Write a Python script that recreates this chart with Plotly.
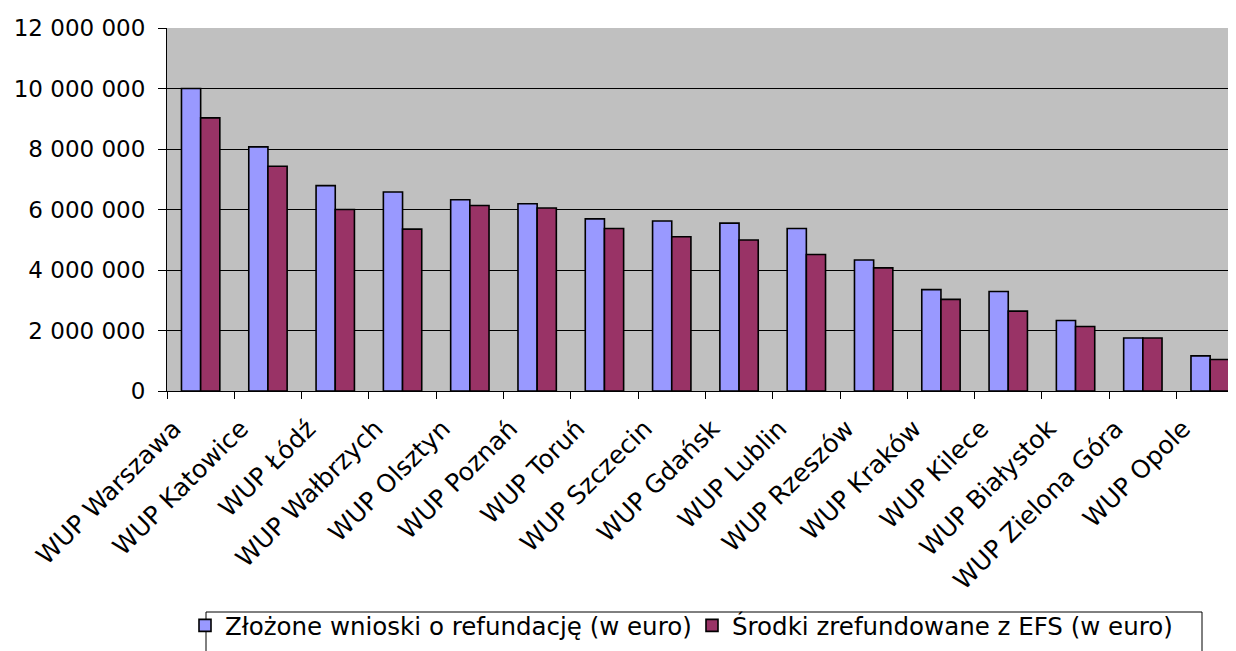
import plotly.graph_objects as go

categories = ["WUP Warszawa", "WUP Katowice", "WUP Łódź", "WUP Wałbrzych", "WUP Olsztyn",
              "WUP Poznań", "WUP Toruń", "WUP Szczecin", "WUP Gdańsk", "WUP Lublin",
              "WUP Rzeszów", "WUP Kraków", "WUP Kilece", "WUP Białystok", "WUP Zielona Góra",
              "WUP Opole"]
zlozone = [10000000, 8070000, 6790000, 6580000, 6320000, 6190000, 5690000, 5620000,
           5550000, 5370000, 4330000, 3350000, 3290000, 2330000, 1750000, 1160000]
srodki = [9030000, 7430000, 6000000, 5350000, 6130000, 6050000, 5370000, 5100000,
          4990000, 4510000, 4070000, 3030000, 2640000, 2130000, 1750000, 1040000]
series_names = ["Złożone wnioski o refundację (w euro)", "Środki zrefundowane z EFS (w euro)"]
y_tickvals = [0, 2000000, 4000000, 6000000, 8000000, 10000000, 12000000]
y_ticktext = ["0", "2 000 000", "4 000 000", "6 000 000", "8 000 000", "10 000 000", "12 000 000"]

FONT = "DejaVu Sans, Liberation Sans, Arial, sans-serif"

# page body has an 8px margin, so the figure is sized to end at the window edge
W, H = 1228, 643
L, T, B = 159, 20, 260
PW, PH = W - L, H - T - B

fig = go.Figure()
fig.add_trace(go.Bar(x=categories, y=zlozone, name=series_names[0],
                     marker=dict(color="#9999FF", line=dict(color="black", width=1.6))))
fig.add_trace(go.Bar(x=categories, y=srodki, name=series_names[1],
                     marker=dict(color="#993366", line=dict(color="black", width=1.6))))

fig.update_layout(
    width=W, height=H,
    margin=dict(l=L, r=0, t=T, b=B, pad=0),
    paper_bgcolor="white", plot_bgcolor="#C0C0C0",
    barmode="group", bargap=0.43, bargroupgap=0,
    font=dict(family=FONT, size=24, color="black"),
    showlegend=True,
    legend=dict(orientation="h", x=(185 - 167) / PW, xanchor="left",
                y=(391 - 603) / PH, yanchor="top",
                bgcolor="rgba(0,0,0,0)", borderwidth=0, itemwidth=30,
                entrywidth=462, entrywidthmode="pixels",
                font=dict(family=FONT, size=24.5, color="black")),
    shapes=[dict(type="rect", xref="paper", yref="paper",
                 x0=(206 - 167) / PW, x1=(1202 - 167) / PW,
                 y0=(391 - 612) / PH, y1=-1.0,
                 line=dict(color="black", width=1), fillcolor="rgba(0,0,0,0)")],
)
fig.update_xaxes(range=[-0.5, -0.5 + PW / 67.3], showline=True, linecolor="black", linewidth=1,
                 ticks="outside", tickson="boundaries", ticklen=7, tickcolor="black",
                 tickangle=-45, ticklabelshift=-27, ticklabelstandoff=12,
                 tickfont=dict(family=FONT, size=25, color="black"),
                 showgrid=False)
fig.update_yaxes(range=[0, 12000000], tickvals=y_tickvals, ticktext=y_ticktext,
                 showline=True, linecolor="black", linewidth=1,
                 ticks="outside", ticklen=8, tickcolor="black", ticklabelstandoff=8,
                 showgrid=True, gridcolor="black", gridwidth=1, zeroline=False,
                 tickfont=dict(family=FONT, size=23, color="black"))

fig.write_html("out.html")
